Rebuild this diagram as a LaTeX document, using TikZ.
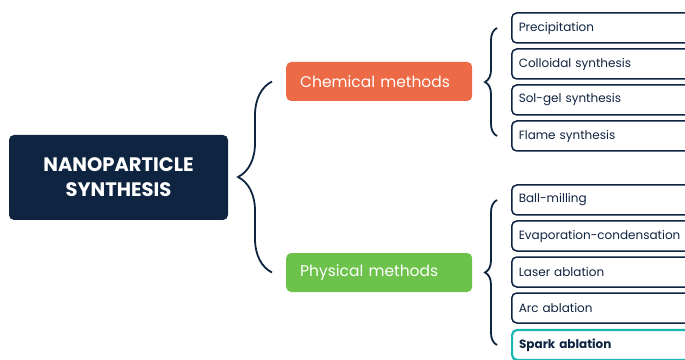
\documentclass[tikz,border=0pt]{standalone}
\usepackage{fontspec}
\setmainfont{Poppins}
\usetikzlibrary{decorations.pathreplacing}

\definecolor{navy}{HTML}{0F2441}
\definecolor{chemorange}{HTML}{EC6A45}
\definecolor{physgreen}{HTML}{6CC24B}
\definecolor{sparkteal}{HTML}{1DB7B1}

\tikzset{
  mainbox/.style={fill=navy, rounded corners=5pt, minimum width=219pt, minimum height=85pt,
    text=white, align=center, font=\bfseries\fontsize{19.5}{25}\selectfont},
  groupbox/.style={rounded corners=5pt, anchor=west, minimum height=39pt, text width=158pt,
    inner xsep=14pt, inner ysep=0pt, text=white, align=left, font=\fontsize{15.5}{18}\selectfont},
  itembox/.style={draw=navy, line width=1.5pt, fill=white, rounded corners=5pt, anchor=west,
    minimum height=30pt, text width=186pt, inner xsep=7pt, inner ysep=0pt, align=left,
    text=navy, font=\fontsize{12}{14}\selectfont},
  bracket/.style={draw=navy, line width=1.8pt, decorate, decoration={brace, amplitude=#1}}
}

\begin{document}
\begin{tikzpicture}[x=1pt, y=1pt]
        \useasboundingbox (0,0) rectangle (685,359);
        \clip (0,0) rectangle (685,359);

        \node[mainbox] (synth) at (118.5,181.5) {NANOPARTICLE\\SYNTHESIS};

        \node[groupbox, fill=chemorange] (chem) at (286,277.5) {Chemical methods};
        \node[groupbox, fill=physgreen] (phys) at (286,86.5) {Physical methods};

        % chemical
        \node[itembox] (precip) at (511,331) {Precipitation};
        \node[itembox] (colloid) at (511,295) {Colloidal synthesis};
        \node[itembox] (solgel) at (511,259) {Sol-gel synthesis};
        \node[itembox] (flame) at (511,223) {Flame synthesis};

        % physical
        \node[itembox] (ball) at (511,159) {Ball-milling};
        \node[itembox] (evap) at (511,123) {Evaporation-condensation};
        \node[itembox] (laser) at (511,87) {Laser ablation};
        \node[itembox] (arc) at (511,51) {Arc ablation};
        \node[itembox, draw=sparkteal, line width=2.2pt, font=\bfseries\fontsize{12}{14}\selectfont] (spark) at (511,14) {Spark ablation};

        \draw[bracket=34pt] ([xshift=-14pt]phys.west) -- ([xshift=-14pt]chem.west);
        \draw[bracket=12pt] ([xshift=-14pt]flame.west) -- ([xshift=-14pt]precip.west);
        \draw[bracket=12pt] ([xshift=-14pt]spark.west) -- ([xshift=-14pt]ball.west);
    \end{tikzpicture}
\end{document}
